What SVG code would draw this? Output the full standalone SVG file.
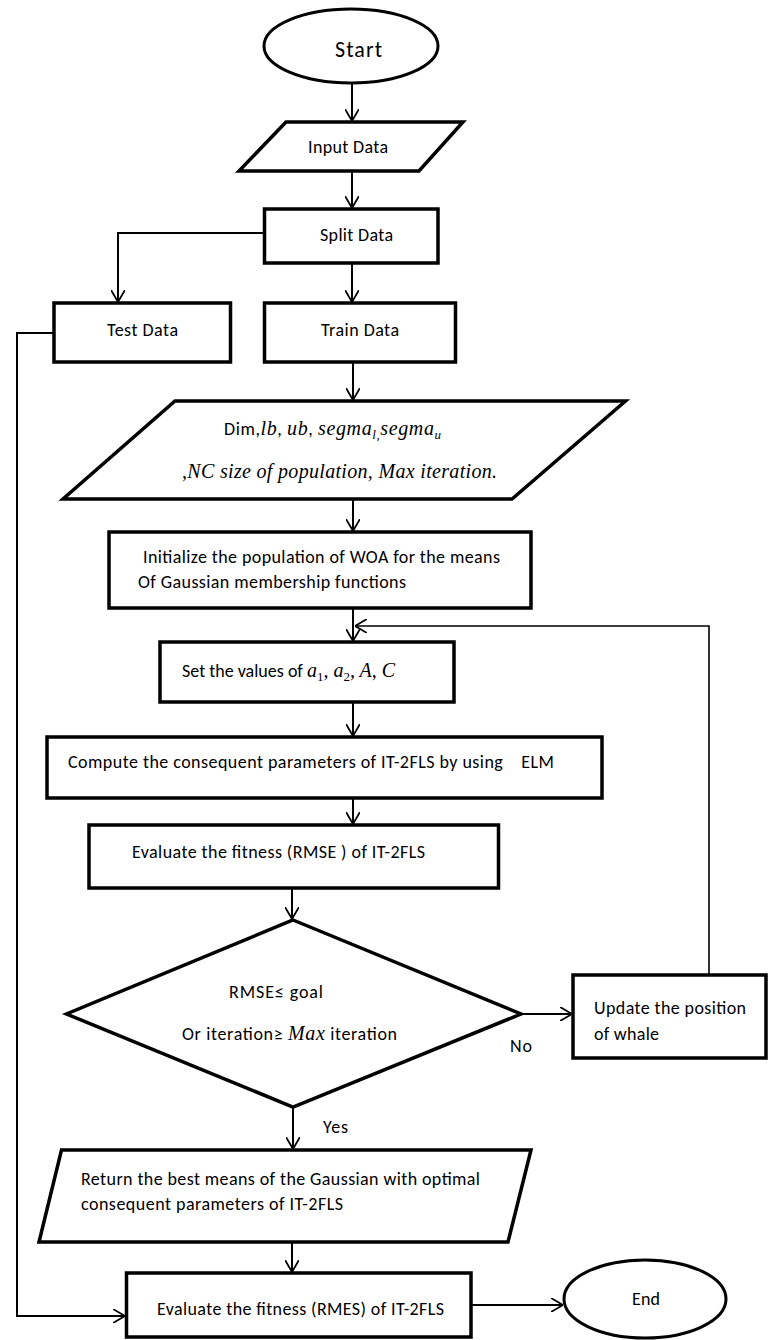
<svg xmlns="http://www.w3.org/2000/svg" width="768" height="1340" viewBox="0 0 768 1340">
<style>
.shape{fill:#fff;stroke:#000;stroke-width:3.5;stroke-linejoin:miter}
.conn{fill:none;stroke:#000;stroke-width:2}
.t{font-family:Carlito,Lato,'Open Sans',sans-serif;font-size:18px;fill:#000;white-space:pre}
.m{font-family:'Liberation Serif',serif;font-style:italic;font-size:20px}
.s{font-size:13px}
.c{text-anchor:middle}
</style>
<defs>
<marker id="arr" viewBox="0 0 12 14" refX="12" refY="7" markerWidth="12" markerHeight="14" orient="auto" markerUnits="userSpaceOnUse">
<path d="M0,0 L12,7 L0,14" fill="none" stroke="#000" stroke-width="1.8"/>
</marker>
</defs>
<rect width="768" height="1340" fill="#fff"/>
<g id="connectors">
<line class="conn" x1="352" y1="83" x2="352" y2="121" marker-end="url(#arr)"/>
<line class="conn" x1="352" y1="171" x2="352" y2="208" marker-end="url(#arr)"/>
<polyline class="conn" points="264,233 118,233 118,302" marker-end="url(#arr)"/>
<line class="conn" x1="352" y1="263" x2="352" y2="302" marker-end="url(#arr)"/>
<line class="conn" x1="353" y1="362" x2="353" y2="400" marker-end="url(#arr)"/>
<line class="conn" x1="353" y1="499" x2="353" y2="531" marker-end="url(#arr)"/>
<line class="conn" x1="353" y1="608" x2="353" y2="641" marker-end="url(#arr)"/>
<polyline class="conn" style="stroke-width:1.6" points="709,975 709,626 355,626" marker-end="url(#arr)"/>
<line class="conn" x1="353" y1="702" x2="353" y2="736" marker-end="url(#arr)"/>
<line class="conn" x1="353" y1="798" x2="353" y2="824" marker-end="url(#arr)"/>
<line class="conn" x1="292" y1="888" x2="292" y2="919" marker-end="url(#arr)"/>
<line class="conn" x1="521" y1="1014" x2="572" y2="1014" marker-end="url(#arr)"/>
<line class="conn" x1="293" y1="1107" x2="293" y2="1149" marker-end="url(#arr)"/>
<line class="conn" x1="292" y1="1242" x2="292" y2="1272" marker-end="url(#arr)"/>
<polyline class="conn" points="54,333 17,333 17,1316 125,1316" marker-end="url(#arr)"/>
<line class="conn" x1="471" y1="1305" x2="563" y2="1305" marker-end="url(#arr)"/>
<text class="t" x="323" y="1133" textLength="25">Yes</text>
<text class="t" x="510" y="1052" textLength="22">No</text>
</g>
<g id="start">
<ellipse class="shape" style="stroke-width:3" cx="351" cy="46" rx="87" ry="37"/>
<text class="t" x="335" y="57" style="font-size:22px" textLength="47">Start</text>
</g>
<g id="input">
<polygon class="shape" points="286,122 463,122 419,171 239,171"/>
<text class="t" x="308" y="153" textLength="80">Input Data</text>
</g>
<g id="split">
<rect class="shape" x="264.5" y="209" width="173.5" height="54"/>
<text class="t" x="320" y="241" textLength="73">Split Data</text>
</g>
<g id="test">
<rect class="shape" x="54" y="303" width="176.5" height="59"/>
<text class="t" x="107" y="336" textLength="71">Test Data</text>
</g>
<g id="train">
<rect class="shape" x="264.5" y="303" width="191" height="59"/>
<text class="t" x="321" y="336" textLength="78">Train Data</text>
</g>
<g id="params">
<polygon class="shape" points="175,401 625.5,401 512,499 63,499"/>
<text class="t" x="224" y="435" textLength="217">Dim,<tspan class="m">lb</tspan>, <tspan class="m">ub</tspan>, <tspan class="m">segma</tspan><tspan class="m s" dy="4">l,</tspan><tspan class="m" dy="-4">segma</tspan><tspan class="m s" dy="4">u</tspan></text>
<text class="m" x="182" y="478" textLength="315">,NC size of population, Max iteration.</text>
</g>
<g id="init">
<rect class="shape" x="109" y="532" width="422" height="76"/>
<text class="t" x="143" y="563" textLength="357">Initialize the population of WOA for the means</text>
<text class="t" x="138" y="588" textLength="268">Of Gaussian membership functions</text>
</g>
<g id="setvals">
<rect class="shape" x="160" y="642" width="294" height="60"/>
<text class="t" x="182" y="677">Set the values of <tspan class="m">a</tspan><tspan class="m s" style="font-style:normal" dy="4">1</tspan><tspan class="m" dy="-4">, a</tspan><tspan class="m s" style="font-style:normal" dy="4">2</tspan><tspan class="m" dy="-4">, A, C</tspan></text>
</g>
<g id="compute">
<rect class="shape" x="47" y="737" width="555" height="61"/>
<text class="t" x="68" y="768" textLength="486">Compute the consequent parameters of IT-2FLS by using    ELM</text>
</g>
<g id="evaluate">
<rect class="shape" x="89" y="825" width="409.5" height="63"/>
<text class="t" x="132" y="858" textLength="293">Evaluate the fitness (RMSE ) of IT-2FLS</text>
</g>
<g id="decision">
<polygon class="shape" points="293,920 521,1014 293,1107 66.5,1014"/>
<text class="t" x="229" y="998" textLength="94">RMSE≤ goal</text>
<text class="t" x="182" y="1040" textLength="215">Or iteration≥ <tspan class="m">Max</tspan> iteration</text>
</g>
<g id="update">
<rect class="shape" x="573" y="975" width="193" height="83"/>
<text class="t" x="594" y="1014" textLength="152">Update the position</text>
<text class="t" x="594" y="1040" textLength="65">of whale</text>
</g>
<g id="return">
<polygon class="shape" points="61.5,1150 531,1150 508,1242 39,1242"/>
<text class="t" x="81" y="1185" textLength="399">Return the best means of the Gaussian with optimal</text>
<text class="t" x="81" y="1210" textLength="262">consequent parameters of IT-2FLS</text>
</g>
<g id="final">
<rect class="shape" x="126.5" y="1273" width="344.5" height="64"/>
<text class="t" x="157" y="1315" textLength="287">Evaluate the fitness (RMES) of IT-2FLS</text>
</g>
<g id="end">
<ellipse class="shape" style="stroke-width:3" cx="645" cy="1299" rx="81" ry="39"/>
<text class="t" x="632" y="1305" textLength="28">End</text>
</g>
</svg>
